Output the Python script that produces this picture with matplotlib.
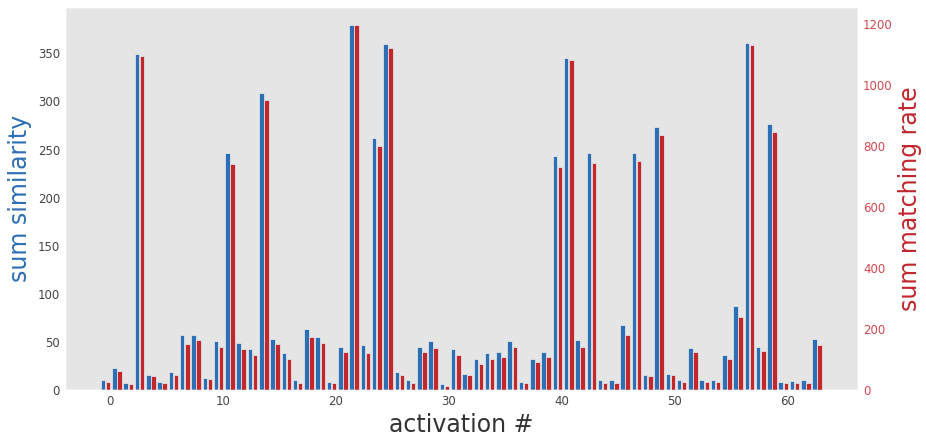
import numpy as np
from matplotlib import pyplot as plt

plt.style.use("ggplot")

# sum similarity per activation (left axis)
similarity = [
    10.4, 22.5, 7.0, 349, 15.6, 8.6, 18.4, 57.5, 57.5, 12.8,
    50.6, 246, 49.2, 42.3, 309, 53.3, 38.1, 10.4, 63.1, 54.8,
    8.6, 45, 379, 46.4, 261.6, 359.3, 18.4, 10.4, 45, 50.6,
    5.9, 42.3, 17, 32.2, 38.1, 39.5, 50.6, 8.6, 32.2, 39.5,
    243, 345, 52, 246, 10.4, 10.4, 67.2, 246, 15.6, 273.7,
    17, 10.4, 43.7, 10.4, 10.4, 36.7, 87, 360.4, 45, 276.8,
    8.6, 9, 10, 53.3,
]
# sum matching rate per activation (right axis)
matching = [
    27, 62, 19, 1097, 45, 22, 49, 151, 163, 36,
    142, 741, 133, 116, 953, 151, 102, 22, 173, 155,
    22, 125, 1196, 120, 799, 1123, 49, 22, 125, 138,
    14, 116, 49, 86, 102, 107, 142, 22, 93, 107,
    732, 1084, 142, 745, 22, 22, 181, 750, 45, 838,
    49, 27, 125, 27, 27, 102, 238, 1132, 129, 847,
    22, 22, 22, 147,
]

blue = "#2C6FB4"
red = "#C1272D"


def main():
    x = np.arange(len(similarity))
    width = 0.4

    fig = plt.figure(figsize=(9.26, 4.4), dpi=100)
    ax = fig.add_axes([0.070, 0.1136, 0.8566, 0.8700])
    ax2 = ax.twinx()

    ax.bar(x - 0.6, similarity, width, color=blue, edgecolor="#EEEEEE", linewidth=0.5)
    ax2.bar(x - 0.15, matching, width, color=red, edgecolor="#EEEEEE", linewidth=0.5)

    ax.grid(False)
    ax2.grid(False)
    ax.set_ylim(0, max(similarity) * 1.05)
    ax2.set_ylim(0, max(matching) * 1.05)

    ax.set_xlabel("activation #", fontsize=17, color="#333333")
    ax.set_ylabel("sum similarity", fontsize=17, color=blue)
    ax2.set_ylabel("sum matching rate", fontsize=17, color=red)

    ax.tick_params(axis="both", length=0, labelsize=8.5, colors="#444444")
    ax2.tick_params(axis="y", length=0, labelsize=8.5, colors="#D04850")

    fig.savefig("out.png", dpi=100)


if __name__ == "__main__":
    main()
